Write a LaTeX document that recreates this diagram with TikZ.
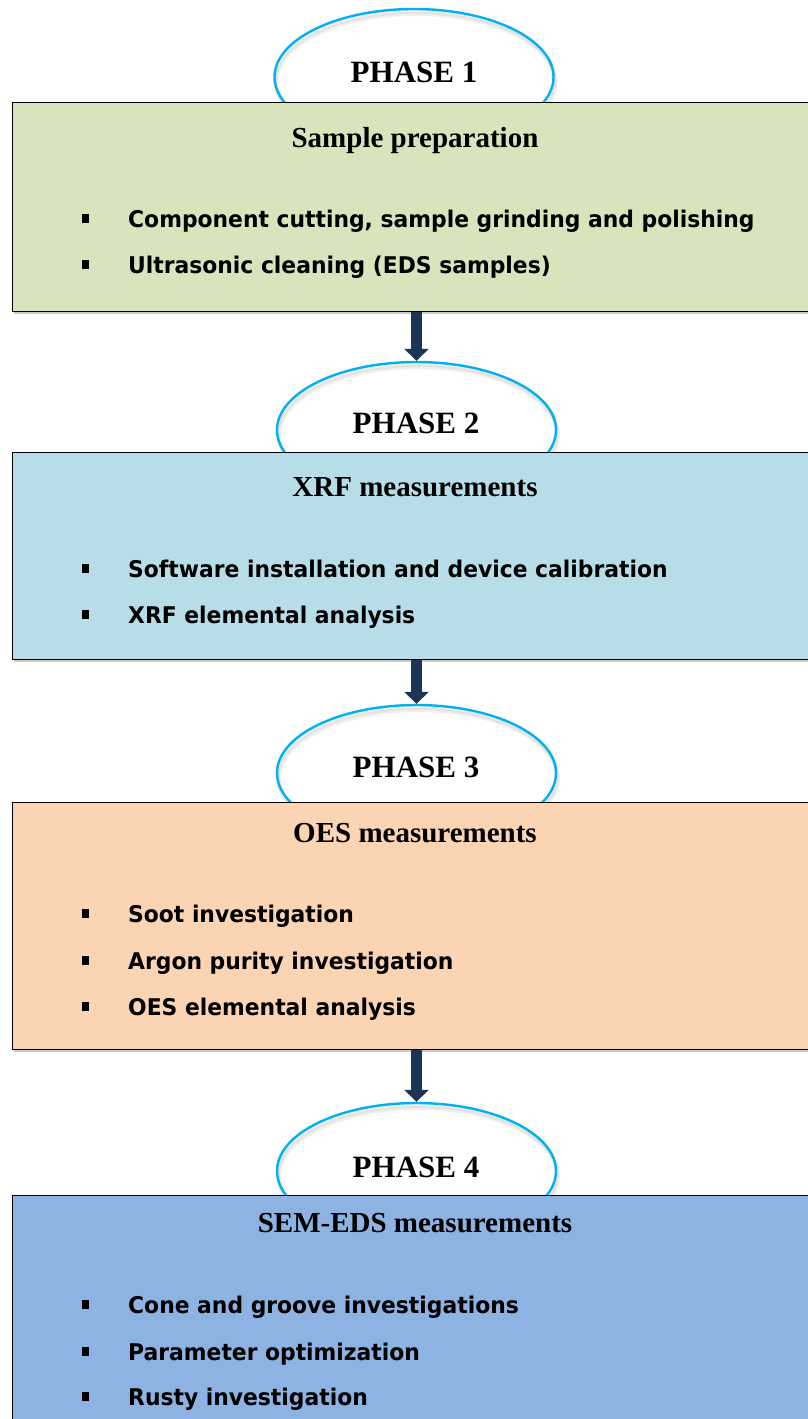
\documentclass[tikz,border=0pt]{standalone}
\usepackage{fontspec}
\setmainfont{Liberation Serif}
\newfontfamily\bulfont[FakeStretch=0.95]{DejaVu Sans}
\usetikzlibrary{shapes.geometric,arrows.meta}
\definecolor{phasecyan}{HTML}{00B0F0}
\definecolor{arrownavy}{HTML}{1C3554}
\definecolor{fillA}{HTML}{D8E4BC}
\definecolor{fillB}{HTML}{B7DEE8}
\definecolor{fillC}{HTML}{FBD4B4}
\definecolor{fillD}{HTML}{8DB3E2}
\tikzset{
  box/.style={draw=black, line width=1.1pt, anchor=north west, inner sep=0pt,
    minimum width=800pt},
  boxshadow/.style={fill=black!35, opacity=0.6},
  phase/.style={ellipse, draw=phasecyan, line width=2.4pt, inner sep=0pt,
    minimum width=279pt, minimum height=136pt},
  phaseshade/.style={ellipse, draw=black!40, line width=4pt, opacity=0.15,
    inner sep=0pt, minimum width=279pt, minimum height=136pt},
  phasetext/.style={font=\fontsize{31}{31}\selectfont\bfseries, anchor=base, inner sep=0pt},
  title/.style={font=\fontsize{29}{29}\selectfont\bfseries, anchor=base, inner sep=0pt},
  item/.style={font=\bulfont\fontsize{23}{23}\selectfont\bfseries, anchor=base west, inner sep=0pt},
  bulletsq/.style={fill=black, minimum width=7.5pt, minimum height=8.5pt, inner sep=0pt},
  flow/.style={draw=arrownavy, line width=11pt, -{Triangle[width=24pt,length=12pt]}},
}
\begin{document}
\begin{tikzpicture}[x=1pt, y=-1pt]
\useasboundingbox (0,0) rectangle (808,1419);
\clip (0,0) rectangle (808,1419);

% phase ellipses (their lower parts sit behind the boxes)
\foreach \n/\cx/\cy in {1/414/77, 2/416.5/430, 3/416.5/773, 4/416.5/1171} {
  \node[phaseshade] (sa\n) at (\cx+1,\cy+3) {};
  \node[phaseshade] (sb\n) at (\cx+2,\cy+5) {};
}
\node[phase] (p1) at (414,77) {};
\node[phase] (p2) at (416.5,430) {};
\node[phase] (p3) at (416.5,773) {};
\node[phase] (p4) at (416.5,1171) {};

% box shadows
\fill[boxshadow] (14,311) rectangle (812,313.5);
\fill[boxshadow] (14,659) rectangle (812,661.5);
\fill[boxshadow] (14,1049) rectangle (812,1051.5);

% phase boxes
\node[box, fill=fillA, minimum height=209pt] (b1) at (12,102) {};
\node[box, fill=fillB, minimum height=207pt] (b2) at (12,452) {};
\node[box, fill=fillC, minimum height=247pt] (b3) at (12,802) {};
\node[box, fill=fillD, minimum height=250pt] (b4) at (12,1195) {};

% phase labels
\node[phasetext] (t1) at (414,82) {PHASE 1};
\node[phasetext] (t2) at (416,433) {PHASE 2};
\node[phasetext] (t3) at (416,777) {PHASE 3};
\node[phasetext] (t4) at (416,1177) {PHASE 4};

% box titles
\node[title] (h1) at (415,147) {Sample preparation};
\node[title] (h2) at (415,496) {XRF measurements};
\node[title] (h3) at (415,842) {OES measurements};
\node[title] (h4) at (415,1232) {SEM-EDS measurements};

% bullet items
\foreach \k/\y/\txt in {
  a1/227/{Component cutting, sample grinding and polishing},
  a2/273/{Ultrasonic cleaning (EDS samples)},
  c1/577/{Software installation and device calibration},
  c2/623/{XRF elemental analysis},
  e1/922/{Soot investigation},
  e2/969/{Argon purity investigation},
  e3/1015/{OES elemental analysis},
  f1/1313/{Cone and groove investigations},
  f2/1360/{Parameter optimization},
  f3/1405/{Rusty investigation}} {
  \node[bulletsq] (q\k) at (85.5,\y-8.5) {};
  \node[item] (i\k) at (128,\y) {\txt};
}

% connectors between phases
\draw[flow] (p2.north |- b1.south) -- (p2.north);
\draw[flow] (p3.north |- b2.south) -- (p3.north);
\draw[flow] (p4.north |- b3.south) -- (p4.north);
\end{tikzpicture}
\end{document}
